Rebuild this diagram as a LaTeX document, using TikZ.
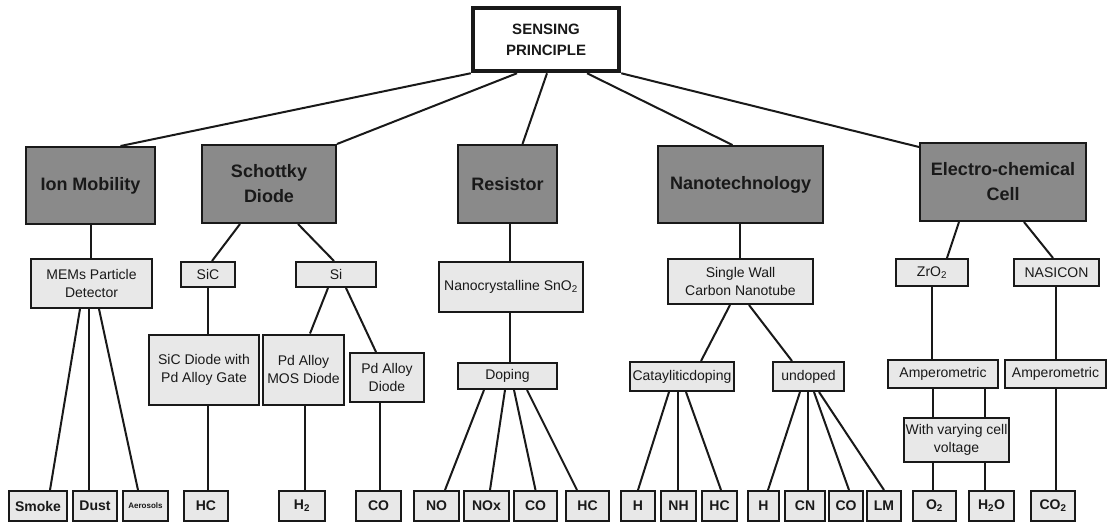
\documentclass[tikz,border=0pt]{standalone}
\usepackage{fontspec}
\setmainfont{Liberation Sans}
\usetikzlibrary{calc}
\definecolor{darkbox}{RGB}{138,138,138}
\definecolor{lightbox}{RGB}{232,232,232}
\definecolor{ink}{RGB}{25,25,25}
\begin{document}
\begin{tikzpicture}[x=1pt,y=-1pt,
  base/.style={draw=ink, line width=2pt, inner sep=0pt, align=center, text=ink},
  top/.style={base, fill=white, line width=4.5pt, font=\fontsize{15}{21}\selectfont\bfseries},
  catbox/.style={base, fill=darkbox, font=\fontsize{18}{25}\selectfont\bfseries},
  subbox/.style={base, fill=lightbox, font=\fontsize{14}{18}\selectfont},
  leaf/.style={base, fill=lightbox, minimum height=30, font=\fontsize{14}{16}\selectfont\bfseries},
  conn/.style={draw=ink, line width=2pt}]
\useasboundingbox (0,0) rectangle (1108,523);
\fill[white] (0,0) rectangle (1108,523);

% top
\node[top, minimum width=146, minimum height=63] (sense) at (546,39.5) {SENSING\\PRINCIPLE};

% level 1
\node[catbox, minimum width=129, minimum height=77] (ion) at (90.5,185.5) {Ion Mobility};
\node[catbox, minimum width=134, minimum height=78] (sch) at (269,184) {Schottky\\Diode};
\node[catbox, minimum width=99, minimum height=78] (res) at (507.5,184) {Resistor};
\node[catbox, minimum width=165, minimum height=77] (nano) at (740.5,184.5) {Nanotechnology};
\node[catbox, minimum width=166, minimum height=78] (elec) at (1003,182) {Electro-chemical\\Cell};

% level 2
\node[subbox, minimum width=121, minimum height=49] (mems) at (91.5,283.5) {MEMs Particle\\Detector};
\node[subbox, minimum width=54, minimum height=25] (sic) at (208,274.5) {SiC};
\node[subbox, minimum width=80, minimum height=25] (si) at (336,274.5) {Si};
\node[subbox, minimum width=144, minimum height=50] (nsn) at (511,287) {Nanocrystalline SnO\textsubscript{2}};
\node[subbox, minimum width=145, minimum height=45] (swcn) at (740.5,281.5) {Single Wall\\Carbon Nanotube};
\node[subbox, minimum width=72, minimum height=27] (zro) at (932,272.5) {ZrO\textsubscript{2}};
\node[subbox, minimum width=85, minimum height=27] (nas) at (1056.5,272.5) {NASICON};

% level 3
\node[subbox, minimum width=110, minimum height=70] (sicd) at (204,369.5) {SiC Diode with\\Pd Alloy Gate};
\node[subbox, minimum width=81, minimum height=70] (mos) at (303.5,369.5) {Pd Alloy\\MOS Diode};
\node[subbox, minimum width=74, minimum height=49] (pdd) at (387,377.5) {Pd Alloy\\Diode};
\node[subbox, minimum width=99, minimum height=26] (dop) at (507.5,376) {Doping};
\node[subbox, minimum width=104, minimum height=29] (cat) at (682,376.5) {Catayliticdoping};
\node[subbox, minimum width=71, minimum height=29] (und) at (808.5,376.5) {undoped};
\node[subbox, minimum width=110, minimum height=28] (amp1) at (943,374) {Amperometric};
\node[subbox, minimum width=101, minimum height=28] (amp2) at (1055.5,374) {Amperometric};
\node[subbox, minimum width=105, minimum height=44] (wvc) at (956.5,440) {With varying cell\\voltage};

% leaves
\node[leaf, minimum width=58] (smoke) at (38,506) {Smoke};
\node[leaf, minimum width=44] (dust) at (95,506) {Dust};
\node[leaf, minimum width=45, font=\fontsize{8}{9}\selectfont\bfseries] (aer) at (145.5,506) {Aerosols};
\node[leaf, minimum width=44] (hca) at (206,506) {HC};
\node[leaf, minimum width=46] (htwo) at (302,506) {H\textsubscript{2}};
\node[leaf, minimum width=45] (coa) at (378.5,506) {CO};
\node[leaf, minimum width=45] (no) at (436.5,506) {NO};
\node[leaf, minimum width=45] (nox) at (486.5,506) {NOx};
\node[leaf, minimum width=43] (cob) at (535.5,506) {CO};
\node[leaf, minimum width=43] (hcb) at (587.5,506) {HC};
\node[leaf, minimum width=34] (ha) at (638,506) {H};
\node[leaf, minimum width=35] (nh) at (678.5,506) {NH};
\node[leaf, minimum width=35] (hcc) at (719.5,506) {HC};
\node[leaf, minimum width=31] (hb) at (763.5,506) {H};
\node[leaf, minimum width=40] (cn) at (805,506) {CN};
\node[leaf, minimum width=34] (coc) at (846,506) {CO};
\node[leaf, minimum width=34] (lm) at (884,506) {LM};
\node[leaf, minimum width=43] (otwo) at (934.5,506) {O\textsubscript{2}};
\node[leaf, minimum width=45] (htwoo) at (991.5,506) {H\textsubscript{2}O};
\node[leaf, minimum width=44] (cotwo) at (1053,506) {CO\textsubscript{2}};

% connectors from top
\draw[conn] (sense.south west) -- ([xshift=30]ion.north);
\draw[conn] ([xshift=-29]sense.south) -- (sch.north east);
\draw[conn] ([xshift=1]sense.south) -- ([xshift=15]res.north);
\draw[conn] ([xshift=41]sense.south) -- ([xshift=-8]nano.north);
\draw[conn] (sense.south east) -- ([yshift=-5]elec.north west);

% level 1 -> 2
\draw[conn] ([xshift=0.5]ion.south) -- ([xshift=0.5]ion.south |- mems.north);
\draw[conn] ([xshift=39]sch.south west) -- ([xshift=4]sic.north);
\draw[conn] ([xshift=-39]sch.south east) -- ([xshift=-2]si.north);
\draw[conn] ([xshift=-1]nsn.north |- res.south) -- ([xshift=-1]nsn.north);
\draw[conn] ([xshift=-0.5]swcn.north |- nano.south) -- ([xshift=-0.5]swcn.north);
\draw[conn] ([xshift=-44]elec.south) -- ([xshift=15]zro.north);
\draw[conn] ([xshift=21]elec.south) -- ([xshift=-3.5]nas.north);

% ion mobility branch
\draw[conn] ([xshift=-11.5]mems.south) -- ([xshift=12]smoke.north);
\draw[conn] ([xshift=-2.5]mems.south) -- ([xshift=-6]dust.north);
\draw[conn] ([xshift=7.5]mems.south) -- ([xshift=-7.5]aer.north);

% schottky branch
\draw[conn] (sic.south) -- (sic.south |- sicd.north);
\draw[conn] (sic.south |- sicd.south) -- (sic.south |- hca.north);
\draw[conn] ([xshift=-8]si.south) -- ([xshift=6.5]mos.north);
\draw[conn] ([xshift=10]si.south) -- ([xshift=-11]pdd.north);
\draw[conn] ([xshift=1.5]mos.south) -- ([xshift=1.5]mos.south |- htwo.north);
\draw[conn] ([xshift=-7]pdd.south) -- ([xshift=-7]pdd.south |- coa.north);

% resistor branch
\draw[conn] ([xshift=-1]nsn.south) -- ([xshift=-1]nsn.south |- dop.north);
\draw[conn] ([xshift=-23.5]dop.south) -- ([xshift=8.5]no.north);
\draw[conn] ([xshift=-2.5]dop.south) -- ([xshift=3.5]nox.north);
\draw[conn] ([xshift=6.5]dop.south) -- (cob.north);
\draw[conn] ([xshift=19.5]dop.south) -- ([xshift=-10.5]hcb.north);

% nanotechnology branch
\draw[conn] ([xshift=-10.5]swcn.south) -- ([xshift=19]cat.north);
\draw[conn] ([xshift=8.5]swcn.south) -- ([xshift=-16.5]und.north);
\draw[conn] ([xshift=-13]cat.south) -- (ha.north);
\draw[conn] ([xshift=-4]cat.south) -- ([xshift=-4]cat.south |- nh.north);
\draw[conn] ([xshift=4]cat.south) -- ([xshift=1.5]hcc.north);
\draw[conn] ([xshift=-8.5]und.south) -- ([xshift=4.5]hb.north);
\draw[conn] ([xshift=-0.5]und.south) -- ([xshift=-0.5]und.south |- cn.north);
\draw[conn] ([xshift=5.5]und.south) -- ([xshift=3]coc.north);
\draw[conn] ([xshift=10.5]und.south) -- (lm.north);

% electro-chemical branch
\draw[conn] (zro.south) -- (zro.south |- amp1.north);
\draw[conn] ([xshift=-0.5]nas.south) -- ([xshift=-0.5]nas.south |- amp2.north);
\draw[conn] ([xshift=-10]amp1.south) -- ([xshift=-10]amp1.south |- wvc.north);
\draw[conn] ([xshift=42]amp1.south) -- ([xshift=42]amp1.south |- wvc.north);
\draw[conn] ([xshift=-10]amp1.south |- wvc.south) -- ([xshift=-10]amp1.south |- otwo.north);
\draw[conn] ([xshift=42]amp1.south |- wvc.south) -- ([xshift=42]amp1.south |- htwoo.north);
\draw[conn] ([xshift=0.5]amp2.south) -- ([xshift=0.5]amp2.south |- cotwo.north);
\end{tikzpicture}
\end{document}
